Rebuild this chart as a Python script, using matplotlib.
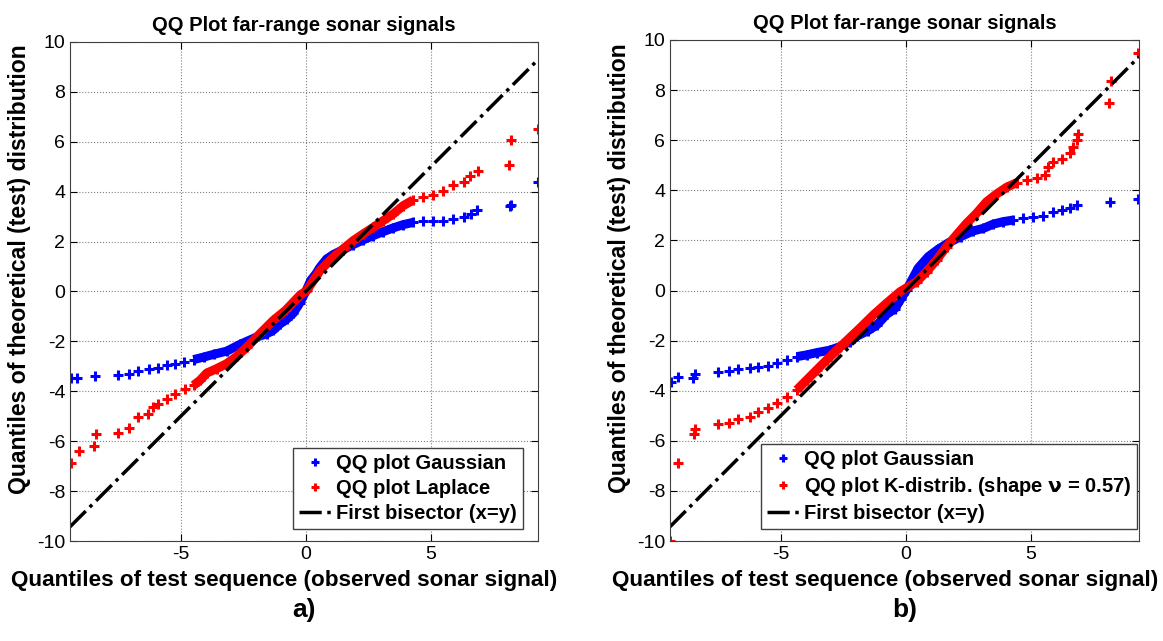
import numpy as np
import matplotlib
matplotlib.use("Agg")
import matplotlib.pyplot as plt

plt.rcParams["font.family"] = ["Liberation Sans", "DejaVu Sans"]
plt.rcParams.update({'font.size': 13})
plt.rcParams['axes.unicode_minus'] = False

#%% data

# panel a) Gaussian
gauss_a_x = [-9.40, -9.16, -8.45, -7.53, -7.06, -6.70, -6.26, -5.92, -5.56, -5.23, -4.89, -4.49,
             -4.09, -3.69, -3.16, -2.63, -2.00, -1.57, -1.30, -1.03, -0.75, -0.50, -0.25, 0.00,
             0.20, 0.40, 0.57, 0.83, 1.10, 1.50, 1.90, 2.30, 2.70, 3.10, 3.50, 3.90, 4.30, 4.70,
             5.10, 5.50, 5.90, 6.31, 6.60, 6.84, 8.17, 8.20, 9.28]
gauss_a_y = [-3.47, -3.45, -3.39, -3.33, -3.29, -3.20, -3.11, -3.05, -2.96, -2.89, -2.83, -2.73,
             -2.63, -2.52, -2.39, -2.12, -1.84, -1.70, -1.55, -1.30, -1.10, -0.87, -0.48, 0.00,
             0.45, 0.70, 0.97, 1.30, 1.48, 1.68, 1.88, 2.07, 2.24, 2.40, 2.55, 2.68, 2.77, 2.81,
             2.81, 2.84, 2.91, 2.97, 3.10, 3.27, 3.41, 3.48, 4.40]

# panel a) Laplace
lap_a_x = [-9.40, -9.09, -8.49, -8.40, -7.53, -7.06, -6.70, -6.30, -6.10, -5.90, -5.56, -5.23,
           -4.83, -4.49, -4.23, -3.96, -3.56, -3.16, -2.76, -2.36, -1.83, -1.30, -0.80, -0.23,
           0.04, 0.57, 1.10, 1.50, 1.90, 2.30, 2.70, 3.10, 3.50, 3.90, 4.30, 4.70, 5.10, 5.50,
           5.90, 6.31, 6.57, 6.90, 8.13, 8.21, 9.28]
lap_a_y = [-6.89, -6.39, -6.19, -5.72, -5.69, -5.49, -5.05, -4.89, -4.63, -4.52, -4.29, -4.12,
           -3.89, -3.76, -3.56, -3.27, -3.09, -2.89, -2.60, -2.23, -1.69, -1.16, -0.75, -0.15,
           0.04, 0.84, 1.37, 1.71, 2.04, 2.31, 2.57, 2.84, 3.11, 3.44, 3.67, 3.80, 3.88, 4.04,
           4.27, 4.37, 4.64, 4.81, 5.07, 6.07, 6.50]

# panel b) Gaussian
gauss_b_x = [-9.40, -9.10, -8.50, -8.43, -7.52, -7.06, -6.70, -6.23, -5.90, -5.50, -5.16, -4.76,
             -4.36, -3.96, -3.56, -3.03, -2.63, -2.23, -1.97, -1.50, -1.16, -0.76, -0.43, -0.20,
             0.03, 0.50, 0.90, 1.30, 1.70, 2.20, 2.70, 3.10, 3.50, 3.90, 4.29, 4.69, 5.09, 5.49,
             5.89, 6.23, 6.56, 6.83, 8.16, 9.30]
gauss_b_y = [-3.66, -3.47, -3.48, -3.35, -3.27, -3.20, -3.15, -3.11, -3.07, -3.01, -2.91, -2.77,
             -2.64, -2.57, -2.48, -2.38, -2.24, -2.04, -1.83, -1.60, -1.38, -0.95, -0.72, -0.35,
             0.02, 0.90, 1.35, 1.65, 1.90, 2.15, 2.38, 2.48, 2.65, 2.75, 2.81, 2.88, 2.95, 2.97,
             3.15, 3.21, 3.28, 3.41, 3.52, 3.64]

# panel b) K-distribution
kdist_b_x = [-9.44, -9.12, -8.48, -8.43, -7.52, -7.06, -6.70, -6.23, -5.90, -5.50, -5.16, -4.76,
             -4.36, -3.96, -3.56, -3.16, -2.76, -2.36, -1.83, -1.30, -0.76, -0.23, 0.43, 0.83,
             1.23, 1.63, 2.03, 2.43, 2.83, 3.23, 3.63, 4.03, 4.43, 4.83, 5.23, 5.56, 5.69, 5.89,
             6.23, 6.56, 6.70, 6.83, 6.90, 8.12, 8.22, 9.30]
kdist_b_y = [-9.99, -6.87, -5.73, -5.53, -5.33, -5.30, -5.14, -5.06, -4.84, -4.70, -4.50, -4.24,
             -3.97, -3.57, -3.17, -2.77, -2.38, -2.00, -1.50, -0.98, -0.50, -0.05, 0.35, 0.75,
             1.22, 1.75, 2.22, 2.68, 3.08, 3.54, 3.85, 4.12, 4.30, 4.41, 4.48, 4.61, 4.94, 5.14,
             5.24, 5.48, 5.74, 6.01, 6.24, 7.50, 8.36, 9.47]

xlim_a = (-9.43, 9.29)
xlim_b = (-9.43, 9.33)
core = 4.5   # dense part of the qq cloud

title = 'QQ Plot far-range sonar signals'
xlab = 'Quantiles of test sequence (observed sonar signal)'
ylab = 'Quantiles of theoretical (test) distribution'


def qq(ax, x, y, color, label):
    x = np.array(x)
    y = np.array(y)
    m = np.abs(x) < core
    ax.plot(x[m], y[m], '-', color=color, linewidth=6.5, solid_capstyle='butt')
    ax.plot(x, y, '+', color=color, markersize=7, mew=2.2, label=label)


def panel(ax, xlim, gx, gy, rx, ry, rlabel, tag, legx):
    qq(ax, gx, gy, 'blue', 'QQ plot Gaussian')
    qq(ax, rx, ry, 'red', rlabel)
    ax.plot(xlim, xlim, '-.', color='black', linewidth=2.5, label='First bisector (x=y)')
    ax.set_xlim(xlim)
    ax.set_ylim(-10, 10)
    ax.set_xticks([-5, 0, 5])
    ax.set_yticks(np.arange(-10, 11, 2))
    ax.grid(True, linestyle=':', color='gray', linewidth=0.8)
    ax.tick_params(direction='in', top=True, right=True, length=5, labelsize=14)
    for s in ax.spines.values():
        s.set_color('#404040')
    ax.set_title(title, fontweight='bold', fontsize=14.5, pad=8)
    ax.set_xlabel(xlab, fontweight='bold', fontsize=16.2)
    ax.set_ylabel(ylab, fontweight='bold', fontsize=16.6)
    ax.xaxis.set_label_coords(0.458, -0.058)
    ax.yaxis.set_label_coords(-0.083, 0.545)
    leg = ax.legend(loc='lower right', bbox_to_anchor=(legx, 0.024), fancybox=False,
                    framealpha=1, edgecolor='#404040', prop={'weight': 'bold', 'size': 14.5},
                    handlelength=1.6, handletextpad=0.25, borderaxespad=0, borderpad=0.3,
                    labelspacing=0.3, markerscale=0.75)
    leg.get_frame().set_linewidth(1)
    ax.text(0.5, -0.138, tag, transform=ax.transAxes, ha='center', va='center',
            fontsize=19, fontweight='bold')


fig = plt.figure(figsize=(11.63, 6.41), dpi=100)
ax1 = fig.add_axes([0.0602, 0.156, 0.4024, 0.7785])
ax2 = fig.add_axes([0.5761, 0.156, 0.4033, 0.7816])

panel(ax1, xlim_a, gauss_a_x, gauss_a_y, lap_a_x, lap_a_y, 'QQ plot Laplace', 'a)', 0.968)
panel(ax2, xlim_b, gauss_b_x, gauss_b_y, kdist_b_x, kdist_b_y,
      r'QQ plot K-distrib. (shape $\mathbf{\nu}$ = 0.57)', 'b)', 0.996)

plt.savefig('out.png', dpi=100)
